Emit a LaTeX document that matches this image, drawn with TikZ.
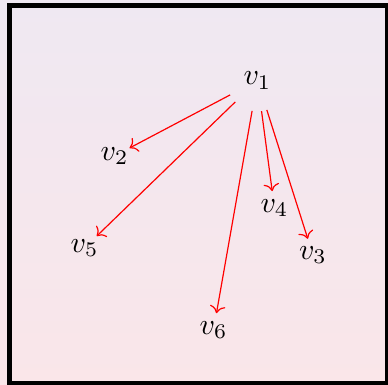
\documentclass[tikz,border=0pt]{standalone}
\usepackage{tikz}
\usetikzlibrary{arrows.meta}
\usepackage{xcolor}
\definecolor{bgtop}{HTML}{EFE8F2}
\definecolor{bgbottom}{HTML}{FAE6E9}

\begin{document}
\begin{tikzpicture}[>=To,
  src/.style={circle,inner sep=3.33pt},
  dst/.style={circle,inner sep=0pt},
  link/.style={->,red}]
% Directed star: v1 sends an edge to every other vertex.
\shade[top color=bgtop,bottom color=bgbottom] (0,0) rectangle (4.565,4.529);
\useasboundingbox (0,0) rectangle (4.565,4.529);
\draw[line width=1.67pt] (0.112,0.014) rectangle (4.559,4.465);
\node[src] (v1) at (3.029,3.582) {$v_1$};
\node[dst] (v2) at (1.347,2.694) {$v_2$};
\node[dst] (v3) at (3.682,1.529) {$v_3$};
\node[dst] (v4) at (3.229,2.082) {$v_4$};
\node[dst] (v5) at (0.994,1.612) {$v_5$};
\node[dst] (v6) at (2.512,0.647) {$v_6$};
\draw[link] (v1) -- (v2);
\draw[link] (v1) -- (v5);
\draw[link] (v1) -- (v6);
\draw[link] (v1) -- (v4);
\draw[link] (v1) -- (v3);
\end{tikzpicture}
\end{document}
